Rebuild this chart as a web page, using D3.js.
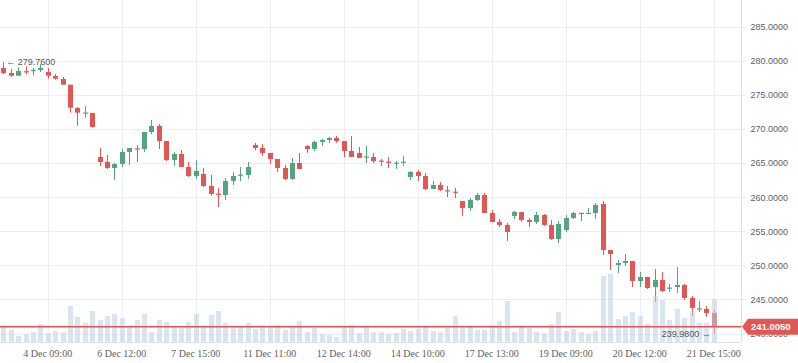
<!DOCTYPE html>
<html>
<head>
<meta charset="utf-8">
<script src="https://cdn.jsdelivr.net/npm/d3@7"></script>
<style>
  body { margin: 0; background: #fff; }
  svg { display: block; }
</style>
</head>
<body>
<script>
// OHLC per candle
const open = [278.92, 278.19, 277.79, 278.45, 278.48, 278.63, 278.33, 277.75, 277.31, 276.47,
  273.06, 272.3, 272.33, 265.88, 265.15, 264.27, 264.85, 266.61, 267.15, 267.05,
  269.54, 270.42, 268.22, 265.44, 266.32, 264.41, 263.1, 263.39, 261.63, 260.5,
  260.31, 262.36, 263.2, 263.24, 267.64, 267.2, 266.47, 265.59, 264.27, 262.66,
  265.0, 267.49, 267.05, 268.08, 268.37, 268.66, 268.22, 266.76, 266.47, 265.8,
  265.88, 265.35, 265.2, 264.95, 265.05, 262.95, 263.68, 263.1, 261.19, 261.78,
  261.0, 260.8, 259.43, 258.41, 259.58, 260.31, 257.67, 256.36, 255.92, 257.24,
  257.82, 256.65, 256.36, 257.38, 255.92, 253.86, 255.18, 256.94, 257.7, 257.6,
  257.67, 258.99, 252.25, 250.05, 250.35, 250.64, 247.71, 248.3, 246.83, 247.86,
  246.6, 246.83, 247.12, 245.22, 243.55, 243.61, 243.03];
const high = [279.76, 278.77, 279.02, 279.17, 278.92, 279.5, 278.92, 278.04, 277.6, 276.47,
  273.2, 273.35, 272.33, 267.2, 266.17, 265.0, 267.05, 267.2, 267.64, 269.54,
  271.3, 270.71, 268.22, 266.61, 266.9, 265.15, 265.44, 264.27, 263.24, 261.34,
  262.8, 263.68, 264.41, 265.15, 267.93, 267.78, 266.47, 265.59, 264.71, 265.73,
  266.47, 267.64, 268.22, 268.52, 268.81, 268.96, 268.22, 268.96, 267.34, 267.49,
  266.47, 265.59, 265.88, 265.29, 266.03, 263.83, 263.97, 263.54, 262.36, 262.22,
  261.63, 261.34, 259.43, 259.87, 260.6, 260.6, 258.11, 256.8, 256.21, 257.97,
  257.82, 256.94, 257.82, 257.53, 256.65, 256.5, 257.38, 257.82, 257.7, 258.41,
  259.14, 259.43, 252.25, 250.79, 251.66, 250.64, 249.03, 248.3, 249.47, 249.03,
  247.27, 249.76, 247.27, 245.51, 244.78, 244.05, 243.47];
const low = [278.04, 277.64, 277.79, 278.0, 277.85, 278.33, 277.35, 277.2, 276.47, 272.37,
  270.47, 271.64, 270.17, 264.56, 264.12, 262.51, 264.41, 264.71, 265.15, 266.61,
  269.25, 267.05, 265.29, 264.56, 264.41, 262.95, 262.66, 261.48, 260.17, 258.55,
  259.58, 261.78, 262.36, 262.66, 266.9, 266.03, 264.85, 263.68, 262.51, 262.51,
  264.12, 266.47, 266.76, 267.49, 267.93, 267.93, 265.88, 265.88, 265.73, 265.0,
  265.0, 264.56, 264.27, 264.12, 264.56, 262.51, 262.36, 261.04, 261.19, 260.9,
  260.0, 259.85, 257.24, 257.97, 259.43, 257.67, 256.36, 255.62, 253.57, 256.8,
  256.36, 255.62, 256.06, 255.77, 253.72, 253.28, 254.89, 256.8, 256.5, 257.53,
  256.8, 251.52, 249.32, 248.88, 249.91, 246.83, 246.83, 246.54, 244.63, 246.1,
  246.1, 245.95, 244.93, 242.6, 243.17, 242.46, 239.98];
const close = [278.19, 277.79, 278.48, 278.35, 278.63, 278.92, 277.79, 277.35, 276.47, 273.1,
  272.37, 272.4, 270.27, 265.15, 264.27, 264.85, 266.61, 267.2, 267.05, 269.54,
  270.42, 268.22, 265.44, 266.32, 264.41, 263.1, 263.83, 261.63, 260.46, 260.4,
  262.36, 263.1, 263.3, 264.41, 267.2, 266.47, 265.59, 264.27, 262.66, 265.0,
  264.12, 267.05, 268.08, 268.37, 268.66, 268.22, 266.76, 265.88, 265.73, 265.95,
  265.29, 265.25, 265.1, 265.05, 265.2, 263.68, 263.1, 261.19, 261.78, 261.04,
  260.85, 260.7, 258.41, 259.58, 260.31, 257.67, 256.36, 255.92, 254.89, 257.82,
  256.65, 256.36, 257.38, 255.92, 253.86, 256.06, 256.94, 257.67, 257.6, 257.7,
  258.85, 252.25, 251.66, 250.35, 250.64, 247.71, 248.3, 246.68, 247.86, 246.25,
  246.75, 247.12, 245.22, 243.76, 243.7, 243.03, 241.005];
const volume = [15, 12, 6, 8, 10, 18, 9, 11, 10, 36,
  25, 19, 31, 22, 26, 28, 24, 15, 22, 28,
  10, 22, 20, 15, 14, 20, 28, 15, 27, 31,
  19, 15, 15, 19, 13, 15, 15, 17, 12, 15,
  21, 10, 14, 8, 7, 5, 15, 17, 9, 15,
  10, 10, 8, 9, 13, 11, 13, 15, 11, 10,
  14, 26, 14, 15, 12, 12, 17, 21, 41, 10,
  15, 14, 10, 9, 18, 30, 11, 13, 10, 8,
  11, 66, 68, 23, 26, 30, 26, 18, 46, 42,
  22, 33, 24, 31, 19, 19, 43];

// time axis labels and the candle each one sits on
const timeLabels = ["4 Dec 09:00", "6 Dec 12:00", "7 Dec 15:00", "11 Dec 11:00", "12 Dec 14:00",
  "14 Dec 10:00", "17 Dec 13:00", "19 Dec 09:00", "20 Dec 12:00", "21 Dec 15:00"];
const timeLabelAt = [6, 16, 26, 36, 46, 56, 66, 76, 86, 96];
const priceTicks = [240, 245, 250, 255, 260, 265, 270, 275, 280, 285];

const data = open.map((o, i) => ({i, o, h: high[i], l: low[i], c: close[i], v: volume[i]}));

const width = 798, height = 363;
const plotRight = 741, plotBottom = 342;
const up = "#53a57f", down = "#e25753";

const x = d3.scaleLinear().domain([0, 96]).range([3.3, 713.7]);
const y = d3.scaleLinear().domain([240, 285]).range([333.6, 26.5]);
const yVol = d3.scaleLinear().domain([0, 80]).range([plotBottom, 262]);

const svg = d3.select("body").append("svg")
  .attr("width", width)
  .attr("height", height)
  .style("font-family", "'Liberation Sans', Arial, sans-serif");

// grid
svg.append("g")
  .selectAll("line")
  .data(priceTicks)
  .join("line")
  .attr("x1", 0).attr("x2", plotRight)
  .attr("y1", d => Math.round(y(d)) + 0.5).attr("y2", d => Math.round(y(d)) + 0.5)
  .attr("stroke", "#eceef2");

svg.append("g")
  .selectAll("line")
  .data(timeLabelAt)
  .join("line")
  .attr("x1", d => Math.round(x(d)) + 0.5).attr("x2", d => Math.round(x(d)) + 0.5)
  .attr("y1", 0).attr("y2", plotBottom)
  .attr("stroke", "#eceef2");

// candles
const candles = svg.append("g");
candles.selectAll("line")
  .data(data)
  .join("line")
  .attr("x1", d => Math.round(x(d.i)) + 0.5)
  .attr("x2", d => Math.round(x(d.i)) + 0.5)
  .attr("y1", d => y(d.h))
  .attr("y2", d => y(d.l))
  .attr("stroke", d => d.c >= d.o ? up : down)
  .attr("stroke-width", 1);

candles.selectAll("rect")
  .data(data)
  .join("rect")
  .attr("x", d => Math.round(x(d.i)) - 2)
  .attr("width", 5)
  .attr("y", d => y(Math.max(d.o, d.c)))
  .attr("height", d => Math.max(1.2, Math.abs(y(d.o) - y(d.c))))
  .attr("fill", d => d.c >= d.o ? up : down);

// volume, drawn over the candles
svg.append("g")
  .selectAll("rect")
  .data(data)
  .join("rect")
  .attr("x", d => Math.round(x(d.i)) - 2)
  .attr("width", 5)
  .attr("y", d => yVol(d.v))
  .attr("height", d => plotBottom - yVol(d.v))
  .attr("fill", "#b9cfe6")
  .attr("opacity", 0.55);

// last price line
const last = data[data.length - 1];
svg.append("line")
  .attr("x1", 0).attr("x2", plotRight)
  .attr("y1", y(last.c)).attr("y2", y(last.c))
  .attr("stroke", "#e8504d")
  .attr("stroke-width", 1.3);

// right axis
const yAxis = svg.append("g")
  .attr("transform", `translate(${plotRight + 0.5},0)`)
  .call(d3.axisRight(y).tickValues(priceTicks).tickSize(4).tickPadding(5)
    .tickFormat(d3.format(".4f")));
yAxis.select(".domain").attr("stroke", "#dfe3e8").attr("d", `M0,0V${plotBottom}`);
yAxis.selectAll(".tick line").attr("stroke", "#dfe3e8");
yAxis.selectAll("text").attr("fill", "#606060").style("font-size", "9px")
  .style("font-family", "'Liberation Sans', Arial, sans-serif");

// bottom axis line
svg.append("line")
  .attr("x1", 0).attr("x2", plotRight + 0.5)
  .attr("y1", plotBottom + 0.5).attr("y2", plotBottom + 0.5)
  .attr("stroke", "#dfe3e8");

svg.append("g")
  .selectAll("text")
  .data(timeLabelAt)
  .join("text")
  .attr("x", d => x(d))
  .attr("y", 357)
  .attr("text-anchor", "middle")
  .attr("fill", "#606060")
  .style("font-family", "'Liberation Serif', 'Times New Roman', serif")
  .style("font-size", "10px")
  .text((d, i) => timeLabels[i]);

// last price tag
const ly = y(last.c);
svg.append("path")
  .attr("d", `M${plotRight + 1},${ly} L${plotRight + 7},${ly - 8} H${width} V${ly + 8} H${plotRight + 7} Z`)
  .attr("fill", "#e25753");
svg.append("text")
  .attr("x", 751).attr("y", ly + 3.5)
  .attr("fill", "#fff")
  .style("font-size", "9.5px")
  .style("font-weight", "bold")
  .text(d3.format(".4f")(last.c));

// high / low markers
const hiIdx = d3.maxIndex(data, d => d.h);
const loIdx = d3.minIndex(data, d => d.l);
svg.append("text")
  .attr("x", x(hiIdx) + 3).attr("y", y(data[hiIdx].h) + 3)
  .attr("fill", "#555")
  .style("font-size", "9px")
  .text("\u2190 " + d3.format(".4f")(data[hiIdx].h));
svg.append("text")
  .attr("x", x(loIdx) - 3).attr("y", y(data[loIdx].l) + 3)
  .attr("text-anchor", "end")
  .attr("fill", "#555")
  .style("font-size", "9px")
  .text(d3.format(".4f")(data[loIdx].l) + " \u2192");
</script>
</body>
</html>
